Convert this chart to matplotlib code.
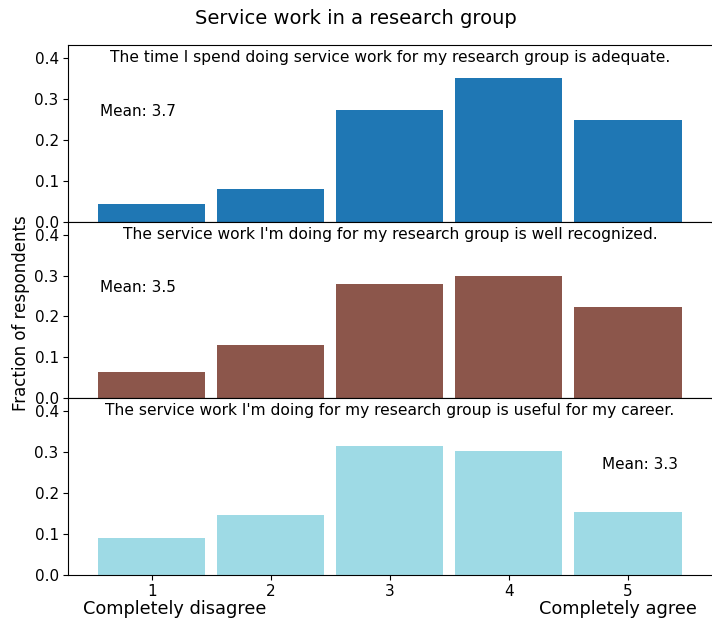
from matplotlib import pyplot as plt
import numpy as np

title = "Service work in a research group"
questions = [
    "The time I spend doing service work for my research group is adequate.",
    "The service work I'm doing for my research group is well recognized.",
    "The service work I'm doing for my research group is useful for my career.",
]
answers = [1, 2, 3, 4, 5]
adequate = [0.044, 0.080, 0.273, 0.351, 0.249]
recognized = [0.063, 0.129, 0.280, 0.298, 0.224]
useful = [0.090, 0.146, 0.315, 0.302, 0.154]
means = [3.7, 3.5, 3.3]
colors = ['#1f77b4', '#8c564b', '#9edae5']
mean_x = [0.05, 0.05, 0.83]

fig, axes = plt.subplots(3, 1, sharex=True, figsize=(7.12, 6.26), dpi=100)
fig.subplots_adjust(left=0.096, right=0.999, top=0.928, bottom=0.082, hspace=0)

for ax, q, vals, m, c, mx in zip(axes, questions, [adequate, recognized, useful], means, colors, mean_x):
    ax.bar(answers, vals, width=0.9, color=c)
    ax.set_ylim(0, 0.432)
    ax.set_xlim(0.3, 5.7)
    ax.set_yticks([0, 0.1, 0.2, 0.3, 0.4])
    ax.tick_params(labelsize=11)
    ax.spines['right'].set_visible(False)
    ax.text(0.5, 0.97, q, transform=ax.transAxes, ha='center', va='top', fontsize=11.2)
    ax.text(mx, 0.27, f"Mean: {m}", transform=ax.get_yaxis_transform(), ha='left', va='center', fontsize=11)

axes[-1].set_xticks(answers)
fig.suptitle(title, fontsize=14, y=0.985)
fig.text(0.03, 0.5, "Fraction of respondents", rotation=90, ha='center', va='center', fontsize=12)
fig.text(83 / 712, 1 - 609 / 626, "Completely disagree", ha='left', va='center', fontsize=12.8)
fig.text(697 / 712, 1 - 609 / 626, "Completely agree", ha='right', va='center', fontsize=12.8)

plt.savefig('out.png')
